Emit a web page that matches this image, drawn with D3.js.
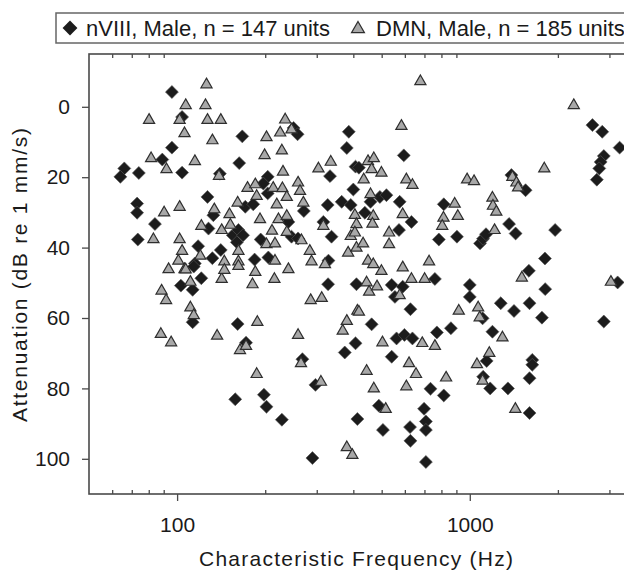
<!DOCTYPE html>
<html><head><meta charset="utf-8">
<script src="https://cdn.jsdelivr.net/npm/d3@7"></script>
<style>html,body{margin:0;padding:0;background:#fff;} svg{display:block;font-family:"Liberation Sans",Arial,Helvetica,sans-serif;}</style>
</head><body><svg id="chart" width="624" height="570"></svg>
<script>
// nVIII, Male (black diamonds): characteristic frequency (Hz) and attenuation (dB re 1 mm/s)
const nviiiFreq = [96,104,167,250,258,386,380,96,89,66,64,74,104,140,163,204,333,407,127,73,73,84,73.4,133,128,171,204,182,197,155,162,168,160,193,240,246,259,271,327,316,337,365,392,400,118,141,132,115,184,205,329,
 103,113,121,114,113,161,172,268,328,410,407,374,297,158,198,202,228,290,413,
 595,418,458,493,519,438,576,632,573,815,784,904,1084,1110,1136,1362,1434,1387,1551,1957,1806,1592,2625,2835,3250,2870,2800,2770,2717,
 541,555,590,760,627,462,562,598,637,772,862,541,734,815,489,505,625,627,698,708,708,708,1000,1000,1106,1276,1416,1600,1810,1764,1195,1142,1111,1174,1350,1635,1635,1600,1600,2870,3200];
const nviiiAtten = [-4.2,2.9,8.4,6.0,7.8,7.1,11.7,11.6,15,17.5,19.9,18.8,18.7,19,16,19.9,19.7,17,25.6,27.5,30.1,33.3,37.7,30.8,34.6,28.4,24.6,27.7,21.8,36.5,35,36.5,38.5,37.7,32.7,36.9,37.4,29.6,27.9,32.7,36.9,27,27.9,23.5,39.6,40.7,43,44.5,43.4,42.8,43.7,
 50.8,52,48.7,45.4,61.2,61.7,67,71.7,50.4,50.4,67.2,69.8,79,83.1,81.8,85.2,88.9,99.8,88.7,
 13.8,17.3,27,25.6,25.1,30.1,27,32.7,35,27.7,37.7,36.9,38.8,37.5,36.2,33.3,36,19.4,23.7,35,43.1,46.6,5.2,7.1,11.6,14,15.7,17.5,20.7,
 50.6,54,51.1,48.9,57.5,61.8,65.8,64.8,65.8,64.1,62.9,71,80.1,82,84.9,91.8,91,94.9,85.8,89.4,91.8,100.9,50.6,54,60.1,55.8,58,55.8,51.8,59.9,63.9,72.2,76.7,80,80,71.9,73.3,77.1,87,61,49.9];

// DMN, Male (gray triangles)
const dmnFreq = [126,107,125,80.2,102,127,141,106,132,234,246,202,225,199,228,230,81.5,92,115,139,304,335,90.3,102,83,134,151,121,142,152,161,174,185,187,213,229,237,219,259,263,270,192,222,237,211,202,216,237,266,316,405,392,284,288,320,384,410,102,104,101,93.5,106,120,145,162,162,240,216,
 88.5,91.7,107,111,111,114,88,95.4,142,145,162,185,181,215,188,137,164,172,187,259,265,286,312,310,380,368,413,380,397,
 678,584,2266,1797,979,1034,1398,1443,1462,607,637,449,470,462,499,434,458,590,468,465,410,405,432,530,530,888,910,813,805,1195,1200,1232,1215,726,590,449,468,499,
 444,453,482,576,632,701,418,503,688,760,620,655,444,470,607,830,516,917,1068,1081,1293,1166,1058,1106,1431,1506,3035];
const dmnAtten = [-6.6,-0.7,-0.7,3.5,3.5,3.5,3.5,7.3,9.3,3.4,6.2,8.4,7.1,13.5,12.2,18.2,14.4,17.5,15.2,19.4,17.3,15.4,29.8,28.2,37.4,28.9,30.3,33.6,34.8,33.3,27,22.8,21.8,25.1,22.8,22.9,25.4,27.5,21.3,23.7,27,31.7,31.7,30.8,35,38.8,38.6,35.3,37.7,33.6,30.5,36.5,40.7,43.7,44.5,41.2,39.8,37.4,40.7,43.5,45.9,45.9,42.1,43.7,40.7,43.7,45.9,43.5,
 52,54.7,46,49.5,56.8,59,64.3,66.7,48.7,46.1,45,46.7,50.2,48.7,60.9,64.8,68.9,67.7,75.7,64.6,72.6,54.7,54.1,77.9,60.6,63.4,57.7,96.5,98.7,
 -7.5,5.2,-0.7,17.3,20.4,20.9,19.7,21.3,22.7,20.4,22,15.2,14.4,17.5,18.5,20.4,24.6,30.3,30.8,33,33.1,35.5,38.6,35.5,38.8,27.3,30.8,31.3,33.6,25.6,27.9,29.6,34.8,43.7,45.4,43.5,44.5,46.4,
 49.7,52.3,50.8,53.3,48.7,48.7,58,66.7,66.9,67.7,72.6,75.7,74.8,79.8,79.2,76.7,85.6,57.7,56.8,59.6,65.3,69.7,72.9,77.6,85.6,48.3,49.5];

const majorTicks = [100, 1000];
const minorTicks = [60,70,80,90,200,300,400,500,600,700,800,900,2000,3000];
const yTicks = [0,20,40,60,80,100];
const legendLabels = ["nVIII, Male, n = 147 units", "DMN, Male, n = 185 units"];
const xTitle = "Characteristic Frequency (Hz)";
const yTitle = "Attenuation (dB re 1 mm/s)";

const svg = d3.select("#chart");
const mLeft = 89, mTop = 54, mBottom = 494, mRight = 646;
const x = d3.scaleLog().domain([50, 4000]).range([mLeft, mRight]);
const y = d3.scaleLinear().domain([-15, 110]).range([mTop, mBottom]);
const axisColor = "#4a4a4a";

// frame
svg.append("rect").attr("x", mLeft).attr("y", mTop).attr("width", mRight - mLeft).attr("height", mBottom - mTop)
  .attr("fill", "none").attr("stroke", axisColor).attr("stroke-width", 1.6);

function styleAxis(g) {
  g.select(".domain").remove();
  g.selectAll("line").attr("stroke", axisColor).attr("stroke-width", 1.3);
  g.selectAll("text").attr("fill", "#1a1a1a").style("font-size", "21px")
    .style("font-family", '"Liberation Sans",Arial,sans-serif');
}

svg.append("g").attr("transform", `translate(0,${mBottom})`)
  .call(d3.axisBottom(x).tickValues(majorTicks).tickFormat(d3.format("d")).tickSize(7).tickPadding(16))
  .call(styleAxis);
svg.append("g").attr("transform", `translate(0,${mBottom})`)
  .call(d3.axisBottom(x).tickValues(minorTicks).tickFormat("").tickSize(-4))
  .call(styleAxis);
svg.append("g").attr("transform", `translate(0,${mTop})`)
  .call(d3.axisTop(x).tickValues(minorTicks).tickFormat("").tickSize(-4))
  .call(styleAxis);
svg.append("g").attr("transform", `translate(${mLeft},0)`)
  .call(d3.axisLeft(y).tickValues(yTicks).tickSize(7).tickPadding(12))
  .call(styleAxis);

// titles
svg.append("text").attr("x", 356).attr("y", 566).attr("text-anchor", "middle")
  .attr("textLength", 314).attr("lengthAdjust", "spacing")
  .style("font-size", "21px").attr("fill", "#1a1a1a").text(xTitle);
svg.append("text").attr("transform", "translate(27,275) rotate(-90)").attr("text-anchor", "middle")
  .attr("textLength", 294).attr("lengthAdjust", "spacing")
  .style("font-size", "21px").attr("fill", "#1a1a1a").text(yTitle);

// markers
const diamond = d3.symbol().type(d3.symbolSquare).size(84)();
const triangle = d3.symbol().type(d3.symbolTriangle).size(54)();

const nviii = nviiiFreq.map((f, i) => ({f, a: nviiiAtten[i]}));
const dmn = dmnFreq.map((f, i) => ({f, a: dmnAtten[i]}));

const plot = svg.append("g");
plot.selectAll("path.d").data(nviii).join("path").attr("class", "d")
  .attr("d", diamond)
  .attr("transform", d => `translate(${x(d.f)},${y(d.a)}) rotate(45)`)
  .attr("fill", "#1c1c1c").attr("stroke", "#555").attr("stroke-width", 0.6);
plot.selectAll("path.t").data(dmn).join("path").attr("class", "t")
  .attr("d", triangle)
  .attr("transform", d => `translate(${x(d.f)},${y(d.a) + 1})`)
  .attr("fill", "#a8a8a8").attr("stroke", "#2e2e2e").attr("stroke-width", 1.2);

// legend
const lg = svg.append("g");
lg.append("rect").attr("x", 56).attr("y", 13).attr("width", 620).attr("height", 30)
  .attr("fill", "#fff").attr("stroke", "#666").attr("stroke-width", 1.5);
lg.append("path").attr("d", d3.symbol().type(d3.symbolSquare).size(110)())
  .attr("transform", "translate(70,28) rotate(45)").attr("fill", "#1c1c1c");
lg.append("text").attr("x", 86).attr("y", 36).style("font-size", "22px").attr("fill", "#1a1a1a").text(legendLabels[0]);
lg.append("path").attr("d", d3.symbol().type(d3.symbolTriangle).size(72)())
  .attr("transform", "translate(358,29)").attr("fill", "#a8a8a8").attr("stroke", "#2e2e2e").attr("stroke-width", 1.2);
lg.append("text").attr("x", 376).attr("y", 36).style("font-size", "22px").attr("fill", "#1a1a1a").text(legendLabels[1]);
</script></body></html>
